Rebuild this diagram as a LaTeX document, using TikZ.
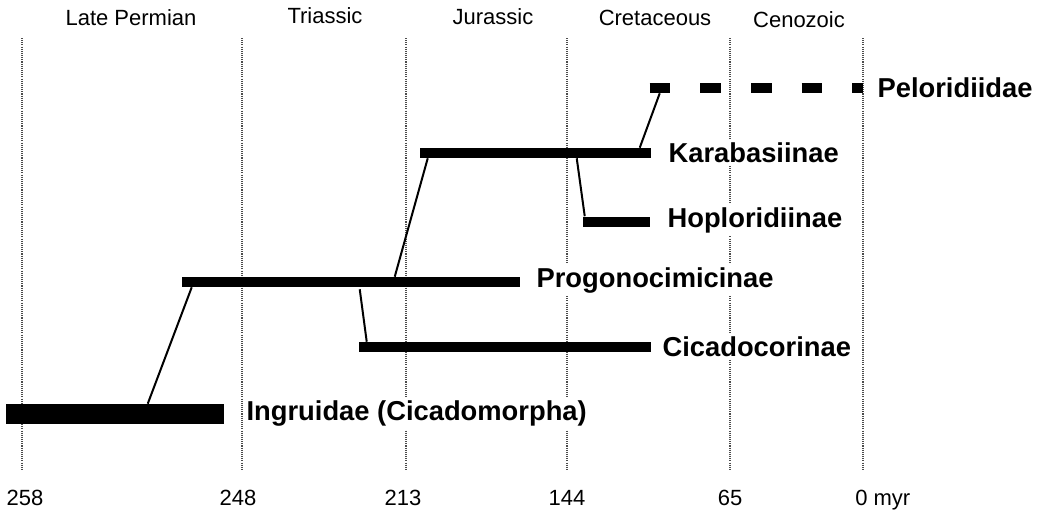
\documentclass[tikz,border=0pt]{standalone}
\usepackage{fontspec}
\setmainfont{Liberation Sans}
\usetikzlibrary{calc}
\tikzset{
  grid/.style={draw=black!70, line width=1.1pt, dash pattern=on 0.8pt off 0.8pt},
  bar/.style={fill=black, inner sep=0pt, minimum height={#1*0.75pt}},
  bar/.default=10,
  link/.style={draw=black, line width=1.5pt},
  taxon/.style={anchor=base west, fill=white, inner xsep=1pt, inner ysep=2.5pt, font=\fontsize{20.5}{24}\selectfont\bfseries},
  period/.style={anchor=base, inner sep=0pt, font=\fontsize{16.5}{19}\selectfont},
  tick/.style={anchor=base, inner sep=0pt, font=\fontsize{16.5}{19}\selectfont}
}
\begin{document}
\begin{tikzpicture}[x=0.75pt, y=-0.75pt]
\useasboundingbox (0,0) rectangle (1044,511);
% period labels
\node[period] (p1) at (131,25) {Late Permian};
\node[period] (p2) at (325,23) {Triassic};
\node[period] (p3) at (493,24) {Jurassic};
\node[period] (p4) at (655,25) {Cretaceous};
\node[period] (p5) at (799,27) {Cenozoic};
% time lines
\foreach \x in {22,242,406,567,730,863}
  \draw[grid] (\x,38) -- (\x,470);
% bars
\node[bar=20, minimum width={218*0.75pt}] (ingr) at (115,414) {};
\node[bar, minimum width={338*0.75pt}] (prog) at (351,282) {};
\node[bar, minimum width={292*0.75pt}] (cic) at (505,347) {};
\node[bar, minimum width={231*0.75pt}] (kar) at (535.5,153) {};
\node[bar, minimum width={67*0.75pt}] (hop) at (616.5,221.5) {};
\node[inner sep=0pt, minimum height={10*0.75pt}, minimum width={213*0.75pt}] (pel) at (756.5,88) {};
\draw[line width=7.5pt, dash pattern=on 15.4pt off 22.6pt] (pel.west) -- (pel.east);
% connectors
\draw[link] ($(ingr.north west)+(142,0)$) -- ($(prog.south west)+(10,0)$);
\draw[link] ($(prog.north west)+(213,0)$) -- ($(kar.south west)+(8,0)$);
\draw[link] ($(prog.south west)+(178,2)$) -- ($(cic.north west)+(8,0)$);
\draw[link] ($(kar.south west)+(157,0)$) -- ($(hop.north west)+(2,0)$);
\draw[link] ($(kar.north west)+(220,0)$) -- ($(pel.south west)+(10,0)$);
% taxon labels
\node[taxon] (lpel) at (876,97) {Peloridiidae};
\node[taxon] (lkar) at (667,162) {Karabasiinae};
\node[taxon] (lhop) at (666,227) {Hoploridiinae};
\node[taxon] (lprog) at (535,287) {Progonocimicinae};
\node[taxon] (lcic) at (661,356) {Cicadocorinae};
\node[taxon] (lingr) at (245,420) {Ingruidae (Cicadomorpha)};
% ages
\node[tick] (t1) at (25,505) {258};
\node[tick] (t2) at (238,505) {248};
\node[tick] (t3) at (403,505) {213};
\node[tick] (t4) at (567,505) {144};
\node[tick] (t5) at (730,505) {65};
\node[tick, anchor=base west] (t6) at (855,505) {0 myr};
\end{tikzpicture}
\end{document}
